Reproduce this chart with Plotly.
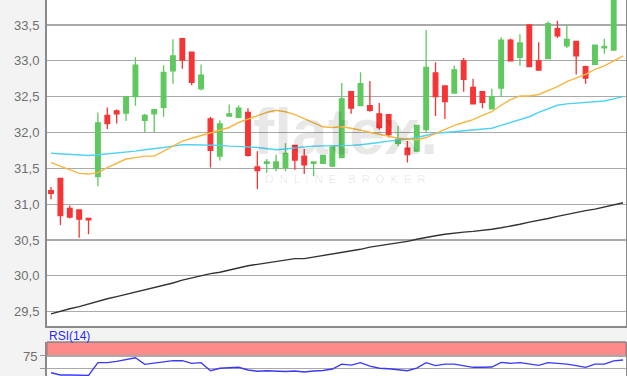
import plotly.graph_objects as go

# ---- data ----
opens = [31.19, 31.36, 30.94, 30.92, 30.80, 31.385, 32.24, 32.30, 32.27, 32.50,
         32.17, 32.26, 32.35, 32.86, 33.31, 33.12, 32.61, 32.19, 31.67, 32.23,
         32.21, 32.28, 31.52, 31.57, 31.50, 31.51, 31.82, 31.67, 31.57, 31.57,
         31.53, 31.65, 32.57, 32.375, 32.375, 32.26, 32.25, 31.85, 31.78, 31.74,
         32.04, 32.83, 32.65, 32.55, 33.00, 32.63, 32.57, 32.33, 32.62, 33.29,
         33.05, 33.50, 33.00, 33.03, 33.45, 33.21, 33.27, 32.92, 32.95, 33.18, 33.15]
highs = [31.24, 31.37, 30.98, 30.93, 30.81, 32.28, 32.35, 32.32, 32.50, 33.05,
         32.26, 32.33, 32.94, 33.30, 33.31, 33.12, 32.95, 32.22, 32.17, 32.39,
         32.38, 32.34, 31.74, 31.63, 31.69, 31.85, 31.82, 31.77, 31.59, 31.69,
         31.82, 32.69, 32.57, 32.84, 32.72, 32.41, 32.25, 32.09, 31.88, 32.10,
         33.43, 32.98, 32.65, 32.93, 33.04, 32.75, 32.57, 32.61, 33.33, 33.31,
         33.37, 33.50, 33.26, 33.55, 33.56, 33.50, 33.27, 32.93, 33.22, 33.31, 34.00]
lows = [31.07, 30.71, 30.80, 30.53, 30.58, 31.25, 32.05, 32.125, 32.16, 32.375,
        32.00, 32.00, 32.22, 32.68, 32.89, 32.66, 32.59, 31.51, 31.61, 32.23,
        32.20, 31.66, 31.21, 31.44, 31.46, 31.46, 31.48, 31.42, 31.39, 31.56,
        31.52, 31.64, 32.26, 32.37, 32.29, 32.04, 31.93, 31.81, 31.58, 31.73,
        32.00, 32.23, 32.19, 32.55, 32.57, 32.40, 32.34, 32.33, 32.50, 33.00,
        32.93, 32.92, 32.86, 33.03, 33.32, 33.18, 32.81, 32.68, 32.95, 33.10, 33.15]
closes = [31.15, 30.84, 30.82, 30.79, 30.78, 32.135, 32.125, 32.26, 32.50, 32.94,
          32.24, 32.32, 32.84, 33.07, 33.01, 32.70, 32.80, 31.75, 32.12, 32.26,
          32.34, 31.68, 31.47, 31.59, 31.59, 31.71, 31.615, 31.55, 31.59, 31.68,
          31.80, 32.47, 32.34, 32.68, 32.31, 32.07, 31.97, 31.90, 31.69, 32.10,
          32.91, 32.50, 32.43, 32.875, 32.74, 32.40, 32.42, 32.50, 33.29, 33.00,
          33.25, 32.92, 32.87, 33.52, 33.35, 33.30, 33.07, 32.76, 33.22, 33.20, 33.95]

ma_short = [31.58, 31.53, 31.47, 31.43, 31.42, 31.44, 31.51, 31.57, 31.63, 31.65,
            31.67, 31.67, 31.74, 31.81, 31.88, 31.92, 31.96, 31.99, 32.03, 32.07,
            32.14, 32.19, 32.24, 32.28, 32.31, 32.29, 32.25, 32.19, 32.13, 32.08,
            32.07, 32.08, 32.06, 32.03, 32.00, 31.97, 31.94, 31.92, 31.91, 31.90,
            31.93, 31.99, 32.04, 32.10, 32.14, 32.18, 32.24, 32.29, 32.38, 32.46,
            32.51, 32.51, 32.53, 32.58, 32.64, 32.71, 32.76, 32.81, 32.88, 32.93,
            33.00, 33.07]
ma_mid = [31.71, 31.70, 31.69, 31.68, 31.68, 31.69, 31.70, 31.71, 31.72, 31.74,
          31.76, 31.77, 31.79, 31.81, 31.83, 31.83, 31.83, 31.82, 31.82, 31.81,
          31.81, 31.80, 31.79, 31.77, 31.76, 31.77, 31.79, 31.80, 31.81, 31.81,
          31.81, 31.82, 31.82, 31.83, 31.84, 31.86, 31.88, 31.89, 31.91, 31.93,
          31.96, 31.99, 32.00, 32.01, 32.02, 32.03, 32.04, 32.06, 32.10, 32.14,
          32.18, 32.22, 32.28, 32.33, 32.38, 32.40, 32.41, 32.42, 32.43, 32.44,
          32.47, 32.50]
ma_long = [29.47, 29.51, 29.54, 29.57, 29.61, 29.65, 29.68, 29.71, 29.74, 29.78,
           29.81, 29.83, 29.86, 29.90, 29.94, 29.97, 30.01, 30.03, 30.05, 30.08,
           30.12, 30.14, 30.16, 30.18, 30.20, 30.22, 30.24, 30.24, 30.26, 30.28,
           30.30, 30.33, 30.35, 30.37, 30.40, 30.42, 30.44, 30.45, 30.48, 30.51,
           30.54, 30.56, 30.58, 30.60, 30.61, 30.62, 30.63, 30.65, 30.67, 30.69,
           30.72, 30.75, 30.77, 30.80, 30.83, 30.86, 30.88, 30.91, 30.93, 30.96,
           30.99, 31.02]
rsi = [68.2, 67.3, 67.3, 67.3, 67.1, 72.3, 72.3, 72.8, 73.4, 74.3,
       71.6, 72.0, 72.7, 73.1, 73.1, 72.0, 72.3, 69.0, 70.0, 70.3,
       70.4, 69.3, 68.8, 69.0, 68.7, 68.7, 68.9, 68.5, 68.9, 69.1,
       69.7, 71.7, 71.3, 72.3, 70.9, 70.0, 69.8, 69.5, 69.0, 70.1,
       72.3, 71.1, 71.7, 71.7, 70.9, 70.4, 70.4, 70.5, 72.4, 72.0,
       72.3, 71.7, 71.2, 72.3, 72.0, 71.7, 71.1, 70.4, 71.7, 71.7,
       73.0, 73.4]

price_ticks = [29.5, 30.0, 30.5, 31.0, 31.5, 32.0, 32.5, 33.0, 33.5]
rsi_ticks = [70, 75]
rsi_ticktext = ["", "75"]
rsi_overbought = 75

candle_x = list(range(len(opens)))
line_x = list(range(len(ma_short)))

GREEN = "#5fc95f"
RED = "#f53535"

fig = go.Figure()

fig.add_trace(go.Candlestick(
    x=candle_x, open=opens, high=highs, low=lows, close=closes,
    increasing=dict(line=dict(color=GREEN, width=1.3), fillcolor=GREEN),
    decreasing=dict(line=dict(color=RED, width=1.3), fillcolor=RED),
    whiskerwidth=0, showlegend=False, hoverinfo="skip",
    xaxis="x", yaxis="y"))

fig.add_trace(go.Scatter(x=line_x, y=ma_long, mode="lines",
                         line=dict(color="#333333", width=1.4),
                         showlegend=False, hoverinfo="skip"))
fig.add_trace(go.Scatter(x=line_x, y=ma_mid, mode="lines",
                         line=dict(color="#4fd3f5", width=1.4),
                         showlegend=False, hoverinfo="skip"))
fig.add_trace(go.Scatter(x=line_x, y=ma_short, mode="lines",
                         line=dict(color="#f7b640", width=1.4),
                         showlegend=False, hoverinfo="skip"))

fig.add_trace(go.Scatter(x=line_x, y=rsi, mode="lines",
                         line=dict(color="#3a3af5", width=1.4),
                         showlegend=False, hoverinfo="skip",
                         xaxis="x2", yaxis="y2"))

FRAME = "#8a8a8a"
fig.update_layout(
    width=627, height=376,
    margin=dict(l=47, r=1, t=0, b=0),
    paper_bgcolor="#f3f3f3",
    plot_bgcolor="#ffffff",
    separators=", ",
    hovermode=False,
    font=dict(family="Liberation Sans, Arial, sans-serif", size=13, color="#707070"),
    xaxis=dict(domain=[0, 1], range=[-0.43, 61.31], anchor="y",
               showticklabels=False, showgrid=False, zeroline=False,
               showline=True, linecolor=FRAME, linewidth=2, mirror=False,
               rangeslider=dict(visible=False), fixedrange=True),
    yaxis=dict(domain=[0.133, 1], range=[29.30, 33.849], anchor="x",
               tickvals=price_ticks, tickformat=".1f",
               ticks="outside", ticklen=3, tickcolor="rgba(0,0,0,0)",
               showgrid=True, gridcolor="#aaaaaa", gridwidth=1.3,
               zeroline=False, showline=True, linecolor=FRAME, linewidth=2,
               mirror=True, tickfont=dict(size=13, color="#707070")),
    xaxis2=dict(domain=[0, 1], anchor="y2", matches="x",
                showticklabels=False, showgrid=False, zeroline=False,
                showline=False),
    yaxis2=dict(domain=[0, 0.0904], range=[66.87, 80.69], anchor="x2",
                tickvals=rsi_ticks, ticktext=rsi_ticktext,
                ticks="outside", ticklen=5, tickcolor="#9a9a9a",
                showgrid=True, gridcolor="#aaaaaa", gridwidth=1.3,
                zeroline=False, showline=True, linecolor=FRAME, linewidth=2,
                mirror=True, tickfont=dict(size=13, color="#707070")),
    shapes=[
        dict(type="rect", xref="x2 domain", yref="y2", x0=0, x1=1,
             y0=rsi_overbought, y1=80.69, fillcolor="#ff8a8a",
             line=dict(color="#d66a6a", width=1.2), layer="below"),
        dict(type="line", xref="x2 domain", yref="y2 domain", x0=0, x1=1,
             y0=1, y1=1, line=dict(color=FRAME, width=1.5)),
    ],
    annotations=[
        dict(text="RSI(14)", xref="paper", yref="paper", x=0.0, y=0.1072,
             xanchor="left", yanchor="middle", showarrow=False,
             font=dict(size=12, color="#2b2bf0")),
        dict(text="<b>flatex.</b>", xref="paper", yref="paper", x=0.515, y=0.548,
             xanchor="center", yanchor="bottom", showarrow=False,
             font=dict(size=64, color="rgba(0,0,0,0.09)",
                       family="Liberation Sans, Arial, sans-serif")),
        dict(text="O  N  L  I  N  E    B  R  O  K  E  R", xref="paper", yref="paper",
             x=0.515, y=0.545, xanchor="center", yanchor="top",
             showarrow=False,
             font=dict(size=11, color="rgba(0,0,0,0.10)",
                       family="Liberation Sans, Arial, sans-serif")),
    ],
)

fig.write_html("out.html",
               config={"displayModeBar": False, "staticPlot": True},
               post_script="document.body.style.margin='0';document.body.style.padding='0';")
